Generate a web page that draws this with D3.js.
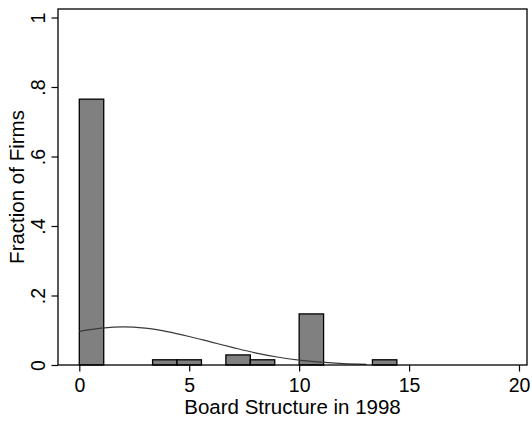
<!DOCTYPE html>
<html>
<head>
<meta charset="utf-8">
<script src="https://cdn.jsdelivr.net/npm/d3@7"></script>
<style>
  body { margin: 0; background: #fff; }
  svg { display: block; font-family: "Liberation Sans", Arial, sans-serif; }
</style>
</head>
<body>
<svg id="chart" width="532" height="426"></svg>
<script>
// histogram bins (start, end) and fraction of firms
const binStarts = [0, 3.333, 4.444, 6.667, 7.778, 10, 13.333];
const binEnds = [1.111, 4.444, 5.556, 7.778, 8.889, 11.111, 14.444];
const fractions = [0.765, 0.015, 0.015, 0.029, 0.015, 0.147, 0.015];

// overlay curve
const curveX = [0, 1, 2, 3, 4, 5, 6, 7, 8, 9, 10, 11, 12, 13.06];
const curveY = [0.097, 0.106, 0.110, 0.106, 0.096, 0.082, 0.066, 0.050, 0.035, 0.023, 0.014, 0.008, 0.004, 0.002];

const xTicks = [0, 5, 10, 15, 20];
const yTicks = [0, 0.2, 0.4, 0.6, 0.8, 1];
const yTickLabels = ["0", ".2", ".4", ".6", ".8", "1"];

const margin = { top: 9, right: 5, bottom: 61, left: 58 };
const width = 532, height = 426;

const svg = d3.select("#chart");

const x = d3.scaleLinear().domain([0, 20]).range([79.3, 519]);
const y = d3.scaleLinear().domain([0, 1]).range([365, 17.5]);

const plotL = margin.left, plotR = width - margin.right;
const plotT = margin.top, plotB = height - margin.bottom;

// bars
const bars = binStarts.map((s, i) => ({ s: s, e: binEnds[i], v: fractions[i] }));
svg.append("g")
  .selectAll("rect")
  .data(bars)
  .join("rect")
  .attr("x", d => x(d.s))
  .attr("y", d => y(d.v))
  .attr("width", d => x(d.e) - x(d.s))
  .attr("height", d => y(0) - y(d.v))
  .attr("fill", "#808080")
  .attr("stroke", "#000")
  .attr("stroke-width", 1.3);

// curve
const pts = curveX.map((v, i) => [v, curveY[i]]);
svg.append("path")
  .datum(pts)
  .attr("fill", "none")
  .attr("stroke", "#3a3a3a")
  .attr("stroke-width", 1.2)
  .attr("d", d3.line().x(d => x(d[0])).y(d => y(d[1])).curve(d3.curveCatmullRom));

// frame
svg.append("rect")
  .attr("x", plotL).attr("y", plotT)
  .attr("width", plotR - plotL).attr("height", plotB - plotT)
  .attr("fill", "none").attr("stroke", "#000").attr("stroke-width", 1.3);

// x axis
const xAxis = svg.append("g")
  .attr("transform", `translate(0,${plotB})`)
  .call(d3.axisBottom(x).tickValues(xTicks).tickSize(6.5).tickSizeOuter(0).tickPadding(7));
xAxis.select(".domain").remove();
xAxis.selectAll("line").attr("stroke-width", 1.2);
xAxis.selectAll("text").attr("font-size", 19.5).attr("font-family", "Liberation Sans, Arial, sans-serif").attr("fill", "#000");

// y axis
const yAxis = svg.append("g")
  .attr("transform", `translate(${plotL},0)`)
  .call(d3.axisLeft(y).tickValues(yTicks).tickSize(6.5).tickSizeOuter(0).tickFormat((d, i) => yTickLabels[i]));
yAxis.select(".domain").remove();
yAxis.selectAll("line").attr("stroke-width", 1.2);
yAxis.selectAll("text")
  .attr("font-size", 19.5)
  .attr("font-family", "Liberation Sans, Arial, sans-serif")
  .attr("fill", "#000")
  .attr("x", null).attr("dy", null)
  .attr("text-anchor", "middle")
  .attr("transform", "translate(-13,0) rotate(-90)");

// titles
svg.append("text")
  .attr("x", (plotL + plotR) / 2).attr("y", 414)
  .attr("text-anchor", "middle")
  .attr("font-size", 20.5)
  .text("Board Structure in 1998");

svg.append("text")
  .attr("transform", `translate(24,${(plotT + plotB) / 2}) rotate(-90)`)
  .attr("text-anchor", "middle")
  .attr("font-size", 20.5)
  .text("Fraction of Firms");
</script>
</body>
</html>
